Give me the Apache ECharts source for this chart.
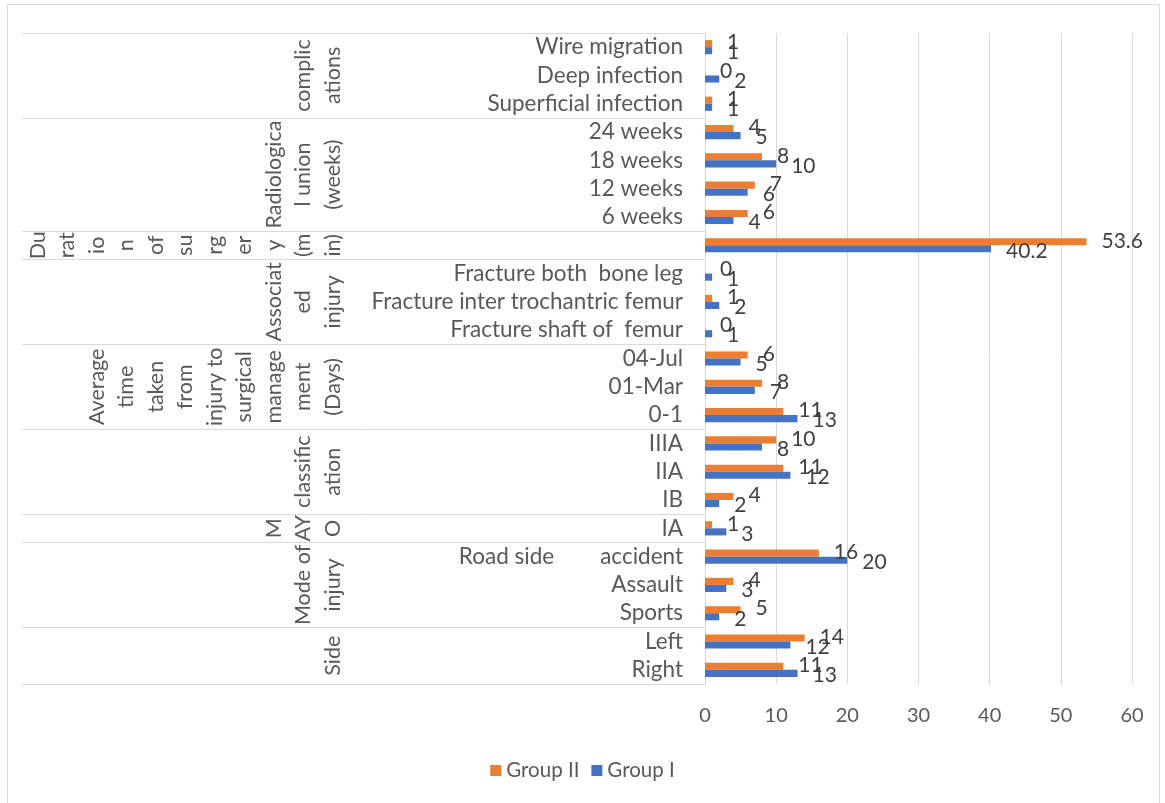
<!DOCTYPE html>
<html>
<head>
<meta charset="utf-8">
<script src="https://cdn.jsdelivr.net/npm/echarts@6/dist/echarts.min.js"></script>
<style>html,body{margin:0;padding:0;background:#fff}#chart{width:1165px;height:803px}</style>
</head>
<body>
<div id="chart"></div>
<script>
// ---- data (bottom to top, as drawn) ----
var categories = ['Right','Left','Sports','Assault','Road side        accident','IA','IB','IIA','IIIA','0-1','01-Mar','04-Jul','Fracture shaft of  femur','Fracture inter trochantric femur','Fracture both  bone leg','','6 weeks','12 weeks','18 weeks','24 weeks','Superficial infection','Deep infection','Wire migration'];
var groupII = [11,14,5,4,16,1,4,11,10,11,8,6,0,1,0,53.6,6,7,8,4,1,0,1];
var groupI  = [13,12,2,3,20,3,2,12,8,13,7,5,1,2,1,40.2,4,6,10,5,1,2,1];
var groupStart = [0,2,5,6,9,12,15,16,20];
var groupEnd   = [1,4,5,8,11,14,15,19,22];
var groupLines = [
  ['Side'],
  ['Mode of','injury'],
  ['M','AY','O'],
  ['classific','ation'],
  ['Average','time','taken','from','injury to','surgical','manage','ment','(Days)'],
  ['Associat','ed','injury'],
  ['Du','rat','io','n','of','su','rg','er','y','(m','in)'],
  ['Radiologica','l union','(weeks)'],
  ['complic','ations']
];
var xTicks = [0,10,20,30,40,50,60];

var FONT = 'Lato';
var chart = echarts.init(document.getElementById('chart'), null, {renderer:'canvas'});

var groupData = groupStart.map(function(s,i){ return [0, s, groupEnd[i]]; });

function renderGroup(params, api){
  var i = params.dataIndex;
  var s = api.value(1), e = api.value(2);
  var band = api.size([0,1])[1];
  var pS = api.coord([0, s]);
  var pE = api.coord([0, e]);
  var x0 = pS[0];
  var yBottom = pS[1] + band/2;
  var yTop = pE[1] - band/2;
  var yMid = (yTop + yBottom)/2;
  var children = [];
  var lineStyle = {stroke:'#d9d9d9', lineWidth:1};
  children.push({type:'line', shape:{x1:22, y1:Math.round(yTop)+0.5, x2:x0, y2:Math.round(yTop)+0.5}, style:lineStyle});
  if (i === 0) children.push({type:'line', shape:{x1:22, y1:Math.round(yBottom)+0.5, x2:x0, y2:Math.round(yBottom)+0.5}, style:lineStyle});
  var lines = groupLines[i];
  var n = lines.length;
  for (var k=0;k<n;k++){
    var lx = x0 - 372 - (n-1-k)*29.5;
    children.push({type:'text', x:lx, y:yMid, rotation:Math.PI/2,
      style:{text:lines[k], x:0, y:0, fill:'#595959', fontSize:21.5, fontFamily:FONT, align:'center', verticalAlign:'middle'}});
  }
  return {type:'group', children:children};
}

var option = {
  animation:false,
  textStyle:{fontFamily:FONT},
  graphic:[{type:'rect', shape:{x:7.5,y:4.5,width:1152,height:830}, style:{fill:'none', stroke:'#d9d9d9', lineWidth:1}, silent:true, z:-10}],
  grid:{left:705, right:33, top:33, bottom:119, containLabel:false},
  legend:{
    data:['Group II','Group I'], left:'center', top:755, icon:'rect', itemWidth:11, itemHeight:11, itemGap:12,
    textStyle:{fontSize:20.5, color:'#595959', fontFamily:FONT}
  },
  xAxis:{
    type:'value', min:0, max:60, interval:10,
    axisLine:{show:false}, axisTick:{show:false},
    splitLine:{show:true, lineStyle:{color:'#d9d9d9', width:1}},
    axisLabel:{fontSize:20, color:'#595959', margin:22, fontFamily:FONT,
      formatter:function(v){ return xTicks.indexOf(v)>=0 ? String(v) : ''; }}
  },
  yAxis:{
    type:'category', data:categories,
    axisLine:{show:true, lineStyle:{color:'#d9d9d9', width:1}},
    axisTick:{show:false},
    axisLabel:{fontSize:22.5, color:'#595959', margin:22, fontFamily:FONT, interval:0}
  },
  series:[
    {name:'Group II', type:'bar', data:groupII, barGap:'0%', barCategoryGap:'50%',
      itemStyle:{color:'#ED7D31'},
      label:{show:true, position:'right', distance:15, offset:[0,-1], fontSize:21, color:'#404040', fontFamily:FONT}},
    {name:'Group I', type:'bar', data:groupI, barGap:'0%', barCategoryGap:'50%',
      itemStyle:{color:'#4472C4'},
      label:{show:true, position:'right', distance:15, offset:[0,2], fontSize:21, color:'#404040', fontFamily:FONT}},
    {type:'custom', renderItem:renderGroup, data:groupData, clip:false, silent:true, z:5,
      encode:{x:0, y:1}}
  ]
};
chart.setOption(option);
</script>
</body>
</html>
